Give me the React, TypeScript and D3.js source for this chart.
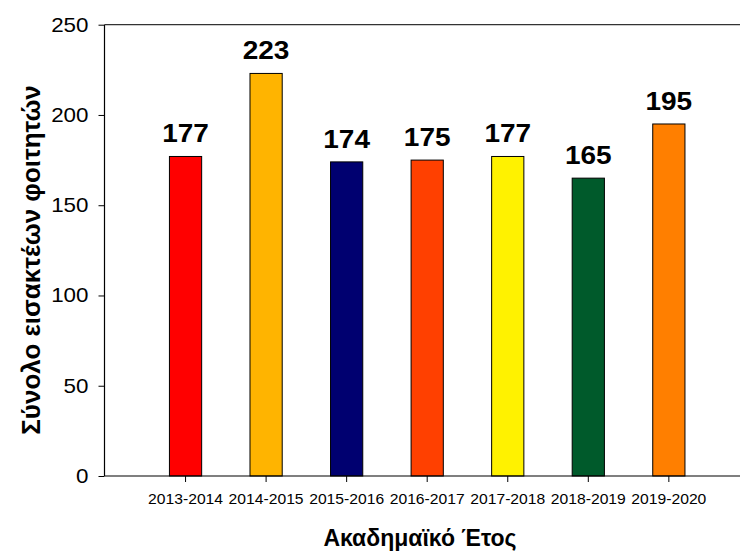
import React from 'react';
import * as d3 from 'd3';

const years = ['2013-2014', '2014-2015', '2015-2016', '2016-2017', '2017-2018', '2018-2019', '2019-2020'];
const students = [177, 223, 174, 175, 177, 165, 195];
const barColors = ['#ff0000', '#ffb400', '#000070', '#ff4000', '#fff200', '#005a2b', '#ff7f00'];
const yTicks = [0, 50, 100, 150, 200, 250];

const FONT = 'Arial, "Liberation Sans", sans-serif';
// the original text is drawn a bit wider than plain Arial
const STRETCH = 1.12;

const App = () => {
  const Width = 740;
  const Height = 552;
  const axisLeftX = 104.5;
  const axisBottomY = 476;
  const axisTopY = 24.7;
  const step = 80.55;

  const xScale = d3
    .scaleBand()
    .domain(years)
    .range([axisLeftX + step / 2 + 0.5, axisLeftX + step / 2 + 0.5 + step * years.length])
    .paddingInner(0.6)
    .paddingOuter(0.3);

  const yScale = d3.scaleLinear().domain([0, 250]).range([axisBottomY, axisTopY]);

  const styleAxis = (node, size) => {
    const g = d3.select(node);
    g.select('.domain').remove();
    g.selectAll('line').attr('stroke', '#000').attr('stroke-width', 1);
    g.selectAll('text')
      .attr('fill', '#000')
      .style('font-family', FONT)
      .style('font-size', size)
      .each(function () {
        const t = d3.select(this);
        const x = +t.attr('x') || 0;
        t.attr('x', 0).attr('transform', `translate(${x},0) scale(${STRETCH},1)`);
      });
  };

  const bars = years.map((d, i) => {
    const cx = xScale(d) + xScale.bandwidth() / 2;
    const ty = yScale(students[i]) - 14;
    return (
      <g key={d}>
        <rect
          x={xScale(d)}
          y={yScale(students[i])}
          width={xScale.bandwidth()}
          height={axisBottomY - yScale(students[i])}
          fill={barColors[i]}
          stroke="#000"
          strokeWidth={1}
        />
        <text
          transform={`translate(${cx}, ${ty}) scale(${STRETCH},1)`}
          textAnchor="middle"
          style={{ fontFamily: FONT, fontSize: '25px', fontWeight: 'bold' }}
        >
          {students[i]}
        </text>
      </g>
    );
  });

  return (
    <svg width={Width} height={Height} style={{ position: 'absolute', left: 0, top: 0, background: '#fff' }}>
      {bars}

      {/* frame lines */}
      <line x1={axisLeftX} x2={Width} y1={axisTopY} y2={axisTopY} stroke="#333" strokeWidth={1.2} />
      <line x1={axisLeftX} x2={Width} y1={axisBottomY} y2={axisBottomY} stroke="#000" strokeWidth={1.2} />
      <line x1={axisLeftX} x2={axisLeftX} y1={axisTopY} y2={axisBottomY} stroke="#000" strokeWidth={1.2} />

      <g
        transform={`translate(0, ${axisBottomY})`}
        ref={(node) => {
          if (!node) return;
          d3.select(node).call(d3.axisBottom(xScale).tickSize(6).tickSizeOuter(0).tickPadding(12.5));
          styleAxis(node, '14px');
        }}
      />
      <g
        transform={`translate(${axisLeftX}, 0)`}
        ref={(node) => {
          if (!node) return;
          d3.select(node).call(d3.axisLeft(yScale).tickValues(yTicks).tickSize(6).tickSizeOuter(0).tickPadding(10));
          styleAxis(node, '20px');
        }}
      />

      <text
        transform="translate(40, 260) rotate(-90)"
        textAnchor="middle"
        style={{ fontFamily: FONT, fontSize: '26px', fontWeight: 'bold' }}
      >
        Σύνολο εισακτέων φοιτητών
      </text>
      <text
        x={420}
        y={546}
        textAnchor="middle"
        style={{ fontFamily: FONT, fontSize: '23px', fontWeight: 'bold' }}
      >
        Ακαδημαϊκό Έτος
      </text>
    </svg>
  );
};

export default App;
